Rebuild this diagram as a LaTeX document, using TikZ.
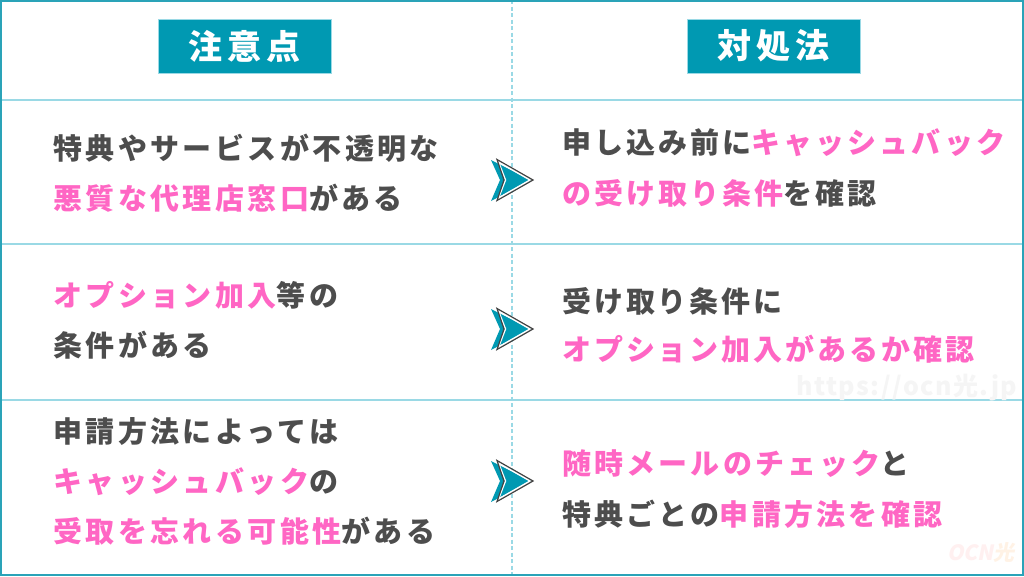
\documentclass[tikz,border=0pt]{standalone}
\usepackage{fontspec}
\setmainfont{Noto Sans CJK JP}[BoldFont={Noto Sans CJK JP Black}]
\definecolor{teal}{HTML}{0099B2}
\definecolor{pinkc}{HTML}{FF66C4}
\definecolor{darkc}{HTML}{4D4D4D}
\definecolor{linec}{HTML}{9AD9E5}
\definecolor{borderc}{HTML}{2AA3B8}
\newcommand{\pk}[1]{\textcolor{pinkc}{#1}}
\tikzset{
 x=1pt,y=-1pt,
 txt/.style={anchor=west,inner sep=0pt,text=darkc,font=\fontsize{29}{29}\selectfont\bfseries\addfontfeature{LetterSpace=#1}},
 txt/.default=11.8,
 headbox/.style={fill=teal,draw=linec,line width=.5pt,minimum width=173pt,minimum height=54pt,inner sep=0pt,text=white,font=\fontsize{34}{34}\selectfont\bfseries\addfontfeature{LetterSpace=15}},
 rowline/.style={draw=linec,line width=1.3pt},
 midline/.style={draw=linec,line width=1.2pt,dash pattern=on 4pt off 2.5pt},
 mark1/.style={anchor=west,inner sep=0pt,text=black!4,font=\fontsize{25}{25}\selectfont\bfseries\addfontfeature{LetterSpace=6}},
}
\newcommand{\arrowshape}[1]{%
\begin{scope}[yshift=#1*-1pt]
 \fill[teal] (491,-20)--(531,0)--(491,21)--(500,0)--cycle;
 \draw[white,line width=1.4pt,line join=miter] (498.5,-18)--(530,0)--(498.5,18)--(505.5,0)--cycle;
 \draw[darkc!85!black,line width=1.2pt,line join=miter] (497,-20.5)--(533,0)--(497,20.5)--(504,0)--cycle;
\end{scope}}
\begin{document}
\begin{tikzpicture}
\useasboundingbox (0,0) rectangle (1024,576);
\fill[white] (0,0) rectangle (1024,576);
\coordinate (t) at (512,0); \coordinate (b) at (512,576);
\coordinate (l1) at (0,100); \coordinate (r1) at (1024,100);
\coordinate (l2) at (0,244); \coordinate (r2) at (1024,244);
\coordinate (l3) at (0,400); \coordinate (r3) at (1024,400);
\draw[midline] (t)--(b);
\draw[rowline] (l1)--(r1); \draw[rowline] (l2)--(r2); \draw[rowline] (l3)--(r3);
\node[mark1] (wm1) at (796,388) {https://ocn光.jp};
\node[anchor=west,inner sep=0pt,text=red!6,font=\fontsize{21}{21}\selectfont\bfseries] (wm2) at (947,553) {\addfontfeature{FakeSlant=0.2}OCN\textcolor{orange!10}{光}};
\draw[borderc,line width=2pt] (1,1) rectangle (1023,575);
\node[headbox] (h1) at (244.5,46) {注意点};
\node[headbox] (h2) at (773.5,46) {対処法};
\node[txt] (a1) at (53,148) {特典やサービスが不透明な};
\node[txt] (a2) at (53,198) {\pk{悪質な代理店窓口}がある};
\node[txt] (a3) at (53,295) {\pk{オプション加入}等の};
\node[txt] (a4) at (53,345) {条件がある};
\node[txt] (a5) at (53,432) {申請方法によっては};
\node[txt] (a6) at (53,482) {\pk{キャッシュバック}の};
\node[txt] (a7) at (53,531) {\pk{受取を忘れる可能性}がある};
\node[txt=10.6] (b1) at (562,143) {申し込み前に\pk{キャッシュバック}};
\node[txt=10.6] (b2) at (562,193) {\pk{の受け取り条件}を確認};
\node[txt=10] (b3) at (562,301) {受け取り条件に};
\node[txt=10] (b4) at (562,349) {\pk{オプション加入があるか確認}};
\node[txt=11] (b5) at (562,464) {\pk{随時メールのチェック}と};
\node[txt=11.2] (b6) at (562,514) {特典ごとの\pk{申請方法を確認}};
\arrowshape{180}
\arrowshape{329}
\arrowshape{481}
\end{tikzpicture}
\end{document}
